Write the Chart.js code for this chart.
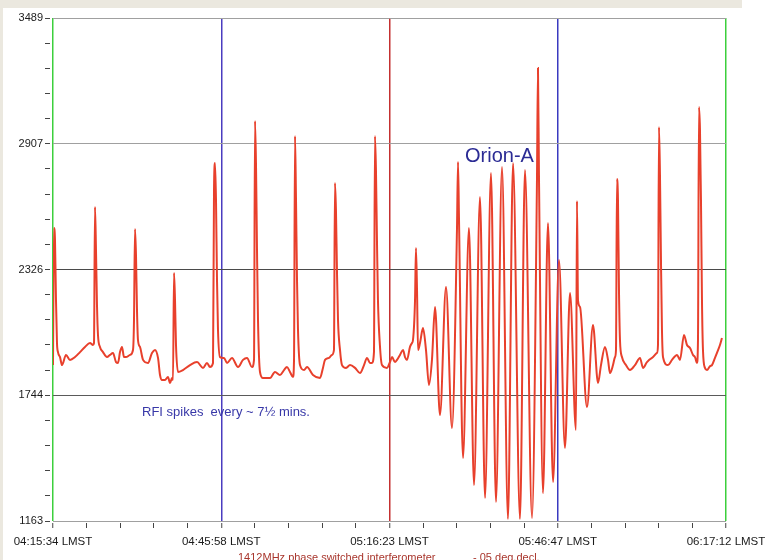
<!DOCTYPE html>
<html><head><meta charset="utf-8">
<script src="https://cdn.jsdelivr.net/npm/chart.js@4.4.1/dist/chart.umd.min.js"></script>
<style>
html,body{margin:0;padding:0;background:#fff;width:765px;height:560px;overflow:hidden;}
#wrap{position:absolute;left:0;top:0;width:765px;height:560px;}
#topband{position:absolute;left:0;top:0;width:742px;height:8px;background:#ebe8df;}
#leftband{position:absolute;left:0;top:0;width:3px;height:560px;background:#ebe8df;}
</style></head><body>
<div id="wrap"><canvas id="c" width="765" height="560"></canvas></div>
<div id="topband"></div><div id="leftband"></div>
<script>
// elapsed minutes since 04:15:34 LMST
const elapsedMin = [
0.00,0.18,0.36,0.54,0.72,0.90,1.27,1.63,2.35,3.07,3.98,4.88,5.78,6.69,7.23,7.41,7.59,7.77,7.95,8.13,
8.49,9.04,9.76,10.30,10.84,11.39,11.75,12.11,12.47,12.83,13.19,13.92,14.46,14.64,14.82,15.00,15.18,15.36,15.72,16.27,
17.17,17.89,18.43,18.98,19.34,19.70,20.24,20.78,21.15,21.51,21.69,21.87,22.05,22.23,22.59,23.49,24.76,26.03,27.11,27.83,
28.37,28.92,29.10,29.28,29.46,29.64,29.82,30.18,30.90,31.45,32.35,33.44,34.34,35.06,35.97,36.33,36.51,36.69,36.87,37.05,
37.41,37.95,39.22,40.12,41.02,41.75,42.29,42.83,43.38,43.56,43.74,43.92,44.10,44.28,44.64,45.37,45.91,46.99,48.25,48.79,
49.16,49.88,50.42,50.78,50.96,51.14,51.32,51.51,51.87,52.23,52.96,53.68,54.59,55.48,56.21,56.75,57.29,57.65,58.01,58.19,
58.37,58.55,58.73,59.08,59.46,60.36,60.90,61.27,61.81,62.17,62.71,63.26,63.62,63.98,64.52,64.88,65.06,65.43,65.60,65.79,
65.97,66.33,66.87,67.41,67.95,68.49,69.04,69.94,71.03,72.11,73.01,73.20,73.38,74.10,75.18,76.09,77.17,78.08,79.16,80.06,
81.15,82.23,83.14,84.40,85.30,86.57,87.47,87.65,87.83,88.56,89.46,90.37,91.45,92.53,93.44,94.52,94.70,94.88,95.25,96.51,
97.59,98.50,99.04,99.76,100.31,100.67,101.21,101.57,101.75,101.93,102.11,102.29,102.47,102.83,103.55,104.28,105.18,106.09,106.63,107.35,
108.26,109.16,109.34,109.52,109.70,109.88,110.06,110.25,111.15,111.87,112.78,113.32,114.04,114.58,115.13,115.67,116.03,116.39,116.57,116.75,
116.93,117.11,117.29,117.47,117.83,118.19,118.74,119.10,119.64,120.00,120.54,120.90
];
const signal = [
1884,2518,2462,2185,1986,1944,1921,1884,1931,1908,1921,1944,1968,1986,1977,1986,2615,2416,2162,2023,
1968,1944,1921,1931,1940,1898,1894,1944,1968,1921,1921,1931,1954,2092,2513,2393,2139,2000,1968,1908,
1894,1940,1954,1917,1838,1815,1815,1829,1801,1824,1815,2310,2185,1977,1852,1861,1884,1898,1871,1894,
1875,1894,2694,2818,2647,2277,2046,1921,1917,1894,1917,1875,1908,1917,1875,1908,3013,2809,2416,2092,
1852,1824,1824,1852,1838,1861,1875,1852,1829,1908,2943,2647,2277,2046,1884,1861,1875,1838,1824,1871,
1908,1917,1931,1954,2726,2601,2324,2092,1954,1884,1871,1884,1871,1847,1884,1917,1894,1894,1944,2943,
2786,2462,2185,1977,1884,1871,1898,1921,1898,1908,1931,1954,1921,1908,1968,1986,2000,2185,2425,2231,
1954,1986,2055,1954,1792,1908,2153,1653,2245,1593,2509,2823,2555,1454,2518,1329,2661,1269,2772,1251,
2800,1172,2818,1172,2786,1177,2740,3258,2763,1292,2541,1343,2370,1501,2217,1584,2643,2185,2153,1690,
2069,1801,1884,1968,1908,1847,1884,1921,1954,2744,2647,2231,2000,1921,1884,1861,1884,1917,1871,1898,
1917,1940,1977,2985,2763,2370,2046,1921,1884,1908,1931,1908,2023,1977,1963,1931,1921,1894,2000,3077,
2971,2647,2185,1954,1871,1861,1879,1884,1917,1940,1977,2009
];
const yTickLabels = ['1163','1744','2326','2907','3489'];
const xTickLabels = ['04:15:34 LMST','04:45:58 LMST','05:16:23 LMST','05:46:47 LMST','06:17:12 LMST'];
const yMin = 1163, yMax = 3489, xMax = 121.633;

const xGridColors = {0:'#3ccf3c',5:'#4a3cc0',10:'#c43030',15:'#3a3ac0',20:'#3ccf3c'};
const yGridColors = {0:'#a0a0a0',5:'#5a5a5a',10:'#4a4a4a',15:'#a0a0a0',20:'#a0a0a0'};

const notes = {
  id:'notes',
  afterDraw(chart){
    const c = chart.ctx;
    c.save();
    c.textBaseline = 'alphabetic';
    c.textAlign = 'left';
    c.font = '20px "Liberation Sans", Arial, sans-serif';
    c.fillStyle = '#2b2b94';
    c.fillText('Orion-A', 465, 162);
    c.font = '13px "Liberation Sans", Arial, sans-serif';
    c.fillStyle = '#3838a8';
    c.fillText('RFI spikes  every ~ 7\u00bd mins.', 142, 416);
    c.font = '11px "Liberation Sans", Arial, sans-serif';
    c.fillStyle = '#a8352c';
    c.fillText('1412MHz phase switched interferometer', 238, 561);
    c.fillText('- 05 deg.decl.', 473, 561);
    c.restore();
  }
};

new Chart(document.getElementById('c'), {
  type: 'line',
  data: {
    datasets: [{
      data: elapsedMin.map((t,i)=>({x:t, y:signal[i]})),
      borderColor: '#e8402c',
      borderWidth: 2,
      pointRadius: 0,
      cubicInterpolationMode: 'monotone',
      fill: false
    }]
  },
  options: {
    responsive: false,
    animation: false,
    devicePixelRatio: 1,
    layout: { padding: { top: 18, right: 39, left: 0, bottom: 0 } },
    plugins: { legend: { display: false }, tooltip: { enabled: false } },
    scales: {
      x: {
        type: 'linear', min: 0, max: xMax,
        afterBuildTicks: s => { s.ticks = Array.from({length:21}, (_,i)=>({value: i*xMax/20})); },
        afterFit: s => { s.height = 39; s.paddingLeft = 0; s.paddingRight = 0; },
        ticks: {
          autoSkip: false, maxRotation: 0, padding: 6, color: '#1a1a1a',
          font: { family: '"Liberation Sans", Arial', size: 11.5 },
          callback: (v, i) => (i % 5 === 0 ? xTickLabels[i/5] : '')
        },
        grid: {
          color: ctx => xGridColors[ctx.index] || 'rgba(0,0,0,0)',
          lineWidth: ctx => (ctx.index % 5 === 0 ? 1.5 : 1),
          tickColor: '#444', tickWidth: 1, tickLength: 8, tickBorderDash: [0,2,5,20]
        },
        border: { display: false }
      },
      y: {
        type: 'linear', min: yMin, max: yMax,
        afterBuildTicks: s => { s.ticks = Array.from({length:21}, (_,i)=>({value: yMin + i*(yMax-yMin)/20})); },
        afterFit: s => { s.width = 53; },
        ticks: {
          autoSkip: false, padding: 2, color: '#1a1a1a',
          font: { family: '"Liberation Sans", Arial', size: 11 },
          callback: (v, i) => (i % 5 === 0 ? yTickLabels[i/5] : '')
        },
        grid: {
          color: ctx => yGridColors[ctx.index] || 'rgba(0,0,0,0)',
          tickColor: '#444', tickLength: 8, tickBorderDash: [5,20], lineWidth: 1
        },
        border: { display: false }
      }
    }
  },
  plugins: [notes]
});
</script>
</body></html>
